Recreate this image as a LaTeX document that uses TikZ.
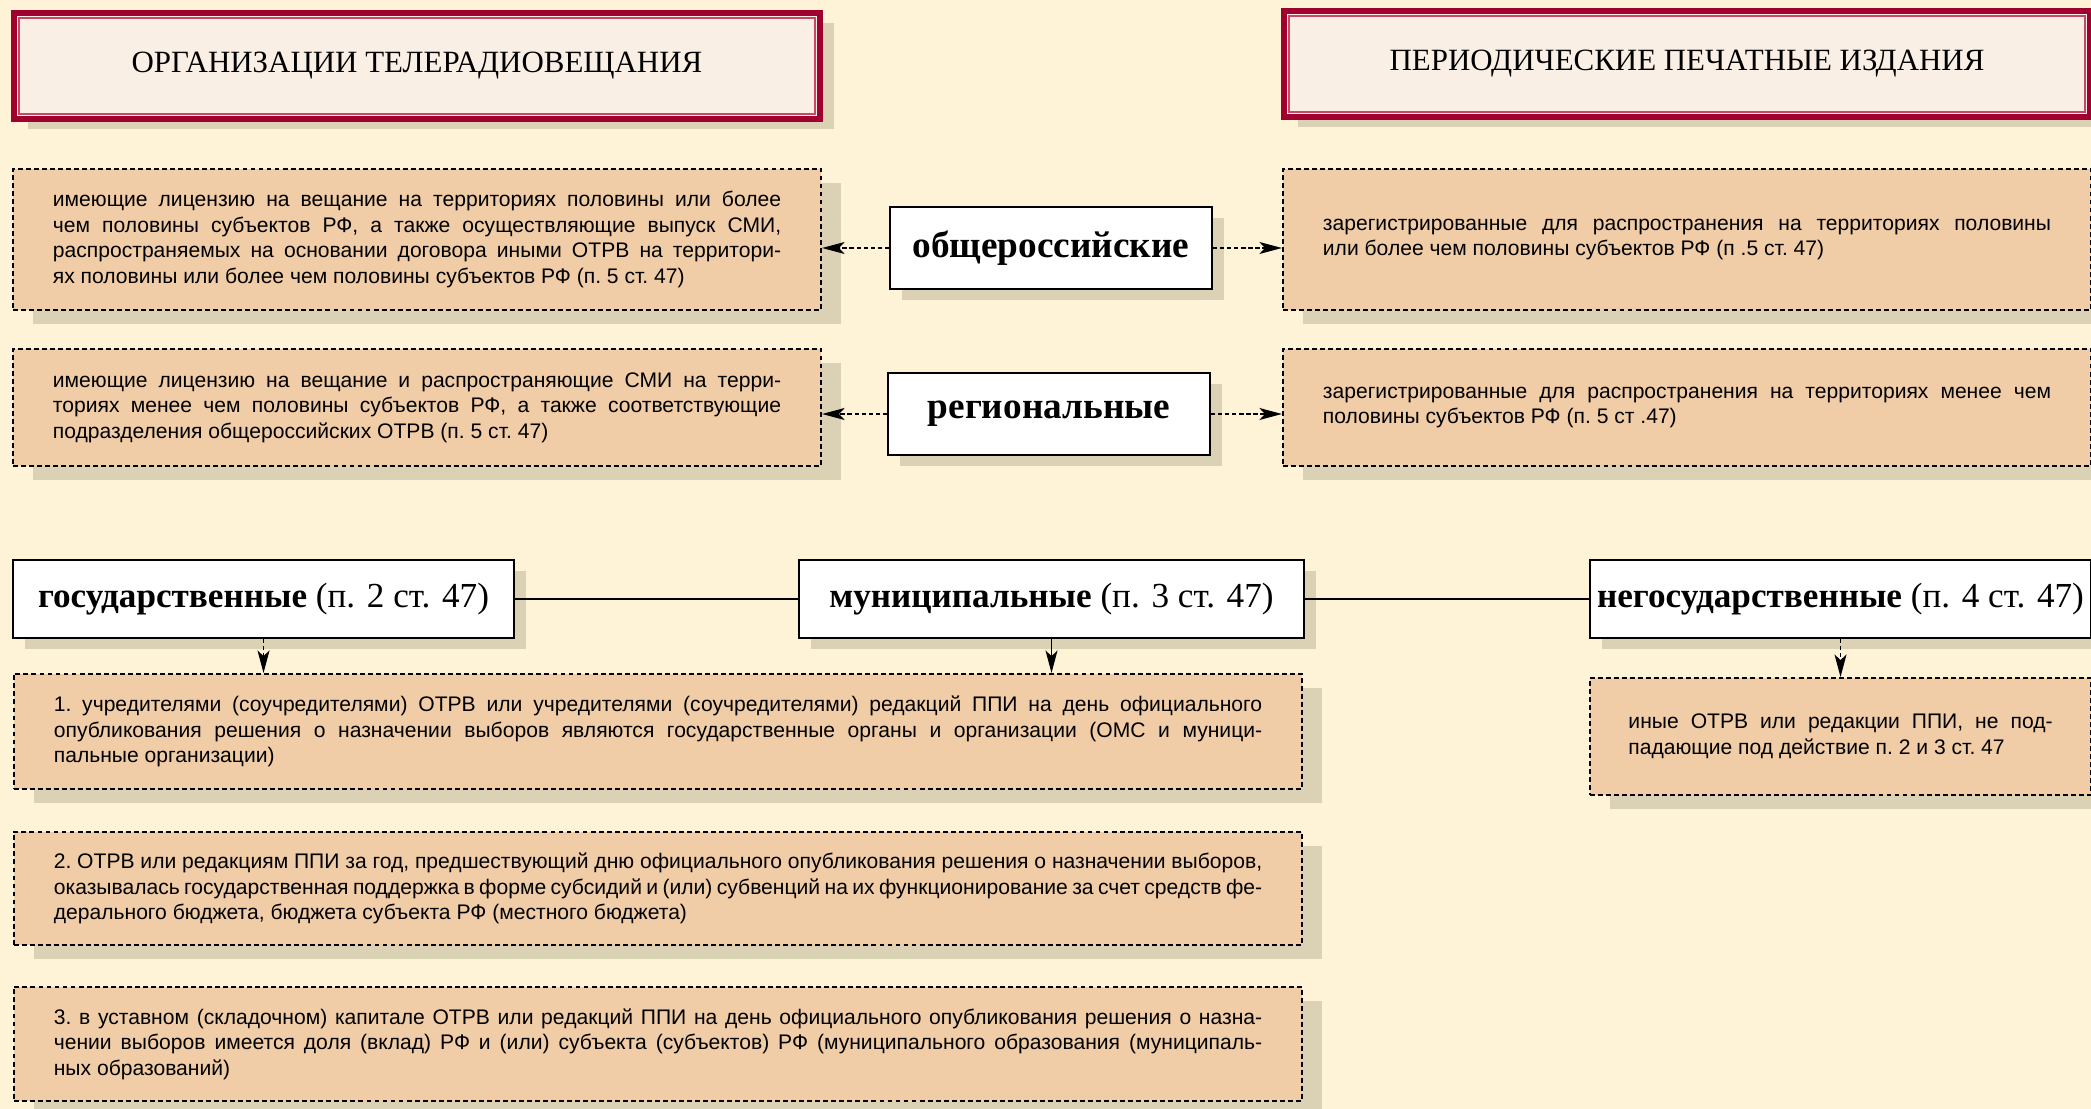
\documentclass[tikz,border=0pt]{standalone}
\usepackage{fontspec}
\setmainfont{Liberation Serif}
\setsansfont{Liberation Sans}
\usetikzlibrary{arrows.meta,shadows}
\definecolor{pagecream}{RGB}{254,243,214}
\definecolor{infotan}{RGB}{240,205,167}
\definecolor{shadebeige}{RGB}{219,210,181}
\definecolor{hdrfill}{RGB}{250,239,229}
\definecolor{hdrred}{RGB}{160,0,48}
\definecolor{hdrpink}{RGB}{200,72,100}
\tikzset{%
  header/.style    = {shape=rectangle, draw=hdrred, line width=4.3pt,%
                      fill=hdrfill, inner sep=0pt, minimum width=20.15cm,%
                      minimum height=2.65cm, font=\fontsize{22}{26}\selectfont,%
                      general shadow={fill=shadebeige, shadow xshift=.35cm,%
                                      shadow yshift=-.25cm}},%
  hdrinner/.style  = {draw=hdrpink, line width=1.2pt},%
  infobox/.style   = {shape=rectangle, draw, line width=1.4pt,%
                      dash pattern=on 3.5pt off 2.2pt, fill=infotan,%
                      align=justify, inner sep=0pt,%
                      font=\sffamily\fontsize{15}{18.2}\selectfont\frenchspacing,%
                      general shadow={fill=shadebeige, shadow xshift=.5cm,%
                                      shadow yshift=-.35cm}},%
  catbox/.style    = {shape=rectangle, draw, line width=1.6pt, fill=white,%
                      inner sep=0pt, font=\fontsize{25}{29}\selectfont,%
                      general shadow={fill=shadebeige, shadow xshift=.3cm,%
                                      shadow yshift=-.28cm}},%
  areabox/.style   = {catbox, font=\fontsize{26.5}{30}\selectfont\bfseries,%
                      minimum width=8.05cm, minimum height=2.05cm},%
  sidearrow/.style = {-{Stealth[length=16pt, width=8.5pt, inset=4pt]},%
                      line width=1.5pt, dash pattern=on 3pt off 2pt},%
  downarrow/.style = {-{Stealth[length=16pt, width=8.5pt, inset=4pt]},%
                      line width=1.2pt},%
  joinline/.style  = {line width=1.7pt}%
}
\begin{document}
\begin{tikzpicture}
              [x=0.025cm, y=-0.025cm]
              \useasboundingbox (0,0) rectangle (2091,1109);
              \clip (0,0) rectangle (2091,1109);
              \fill[pagecream] (0,0) rectangle (2091,1109);
              % -------------- HEADERS -----------------------------
              \node[header] (hdrTV) at (417,66) {ОРГАНИЗАЦИИ ТЕЛЕРАДИОВЕЩАНИЯ};
              \node[header] (hdrPrint) at (1687,64) {ПЕРИОДИЧЕСКИЕ ПЕЧАТНЫЕ ИЗДАНИЯ};
              \foreach \hdr in {hdrTV,hdrPrint}
                \draw[hdrinner] ([shift={(8,8)}]\hdr.north west)
                  rectangle ([shift={(-8,-8)}]\hdr.south east);
              % -------------- BY TERRITORY -----------------------------
              \node[infobox, minimum width=20.2cm, minimum height=3.525cm, text width=18.2cm]
                (infoTV1) at (417,239.5)
                {имеющие лицензию на вещание на территориях половины или более\linebreak
                 чем половины субъектов РФ, а также осуществляющие выпуск СМИ,\linebreak
                 распространяемых на основании договора иными ОТРВ на территори-\linebreak
                 ях половины или более чем половины субъектов РФ (п. 5 ст. 47)};
              \node[infobox, minimum width=20.2cm, minimum height=2.925cm, text width=18.2cm]
                (infoTV2) at (417,407.5)
                {имеющие лицензию на вещание и распространяющие СМИ на терри-\linebreak
                 ториях менее чем половины субъектов РФ, а также соответствующие\linebreak
                 подразделения общероссийских ОТРВ (п. 5 ст. 47)};
              \node[infobox, minimum width=20.2cm, minimum height=3.525cm, text width=18.2cm]
                (infoPR1) at (1687,239.5)
                {зарегистрированные для распространения на территориях половины\linebreak
                 или более чем половины субъектов РФ (п .5 ст. 47)};
              \node[infobox, minimum width=20.2cm, minimum height=2.925cm, text width=18.2cm]
                (infoPR2) at (1687,407.5)
                {зарегистрированные для распространения на территориях менее чем\linebreak
                 половины субъектов РФ (п. 5 ст .47)};
              \node[areabox] (labFed) at (1051,248) {общероссийские};
              \node[areabox] (labReg) at (1049,414) {региональные};
              \draw[sidearrow] (labFed.west) -- (labFed.west -| infoTV1.east);
              \draw[sidearrow] (labFed.east) -- (labFed.east -| infoPR1.west);
              \draw[sidearrow] (labReg.west) -- (labReg.west -| infoTV2.east);
              \draw[sidearrow] (labReg.east) -- (labReg.east -| infoPR2.west);
              % -------------- BY OWNERSHIP -----------------------------
              \node[catbox, minimum width=12.525cm, minimum height=1.95cm]
                (labState) at (263.5,599) {\textbf{государственные} (п. 2 ст. 47)};
              \node[catbox, minimum width=12.625cm, minimum height=1.95cm]
                (labMun) at (1051.5,599) {\textbf{муниципальные} (п. 3 ст. 47)};
              \node[catbox, minimum width=12.525cm, minimum height=1.95cm]
                (labPriv) at (1840.5,599) {\textbf{негосударственные} (п. 4 ст. 47)};
              \draw[joinline] (labState.east) -- (labMun.west);
              \draw[joinline] (labMun.east) -- (labPriv.west);
              \node[infobox, minimum width=32.2cm, minimum height=2.875cm, text width=30.2cm]
                (infoA) at (658,731.5)
                {1. учредителями (соучредителями) ОТРВ или учредителями (соучредителями) редакций ППИ на день официального\linebreak
                 опубликования решения о назначении выборов являются государственные органы и организации (ОМС и муници-\linebreak
                 пальные организации)};
              \node[infobox, minimum width=32.2cm, minimum height=2.825cm, text width=30.2cm]
                (infoB) at (658,888.5)
                {2. ОТРВ или редакциям ППИ за год, предшествующий дню официального опубликования решения о назначении выборов,\linebreak
                 оказывалась государственная поддержка в форме субсидий и (или) субвенций на их функционирование за счет средств фе-\linebreak
                 дерального бюджета, бюджета субъекта РФ (местного бюджета)};
              \node[infobox, minimum width=32.2cm, minimum height=2.85cm, text width=30.2cm]
                (infoC) at (658,1044)
                {3. в уставном (складочном) капитале ОТРВ или редакций ППИ на день официального опубликования решения о назна-\linebreak
                 чении выборов имеется доля (вклад) РФ и (или) субъекта (субъектов) РФ (муниципального образования (муниципаль-\linebreak
                 ных образований)};
              \node[infobox, minimum width=12.525cm, minimum height=2.925cm, text width=10.6cm]
                (infoPriv) at (1840.5,736.5)
                {иные ОТРВ или редакции ППИ, не под-\linebreak
                 падающие под действие п. 2 и 3 ст. 47};
              \draw[sidearrow, downarrow] (labState.south) -- (labState.south |- infoA.north);
              \draw[downarrow] (labMun.south) -- (labMun.south |- infoA.north);
              \draw[sidearrow, downarrow] (labPriv.south) -- (labPriv.south |- infoPriv.north);
\end{tikzpicture}
\end{document}
